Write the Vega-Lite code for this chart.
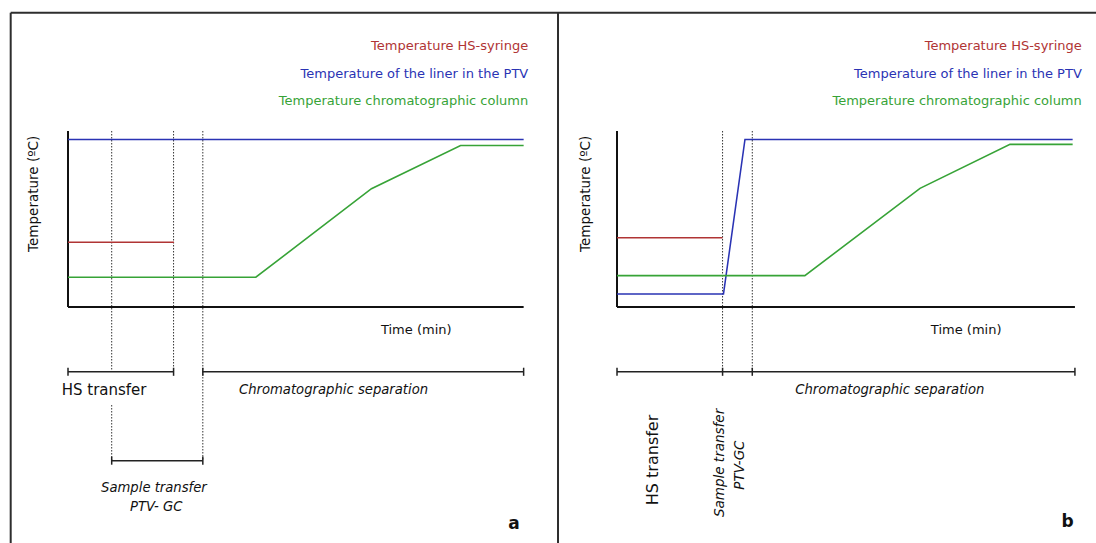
{
  "$schema": "https://vega.github.io/schema/vega-lite/v6.json",
  "padding": 0,
  "spacing": 0,
  "bounds": "flush",
  "background": "white",
  "config": {"view": {"stroke": null}, "text": {"font": "DejaVu Sans"}},
  "datasets": {
    "rules_a": [
      {"kind": "frame", "t": -12.54, "t2": 105.03, "v": 167.2, "v2": 167.2},
      {"kind": "frame", "t": -12.54, "t2": -12.54, "v": 167.2, "v2": -134.09},
      {"kind": "axis", "t": 0, "t2": 0, "v": 0, "v2": 100},
      {"kind": "axis", "t": 0, "t2": 99.7, "v": 0, "v2": 0},
      {"kind": "bracket", "t": 0, "t2": 23.1, "v": -36.8, "v2": -36.8},
      {"kind": "bracket", "t": 29.5, "t2": 99.7, "v": -36.8, "v2": -36.8},
      {"kind": "bracket", "t": 9.56, "t2": 29.5, "v": -87.3, "v2": -87.3},
      {"kind": "bracket", "t": 0, "t2": 0, "v": -39.1, "v2": -34.5},
      {"kind": "bracket", "t": 23.1, "t2": 23.1, "v": -39.1, "v2": -34.5},
      {"kind": "bracket", "t": 29.5, "t2": 29.5, "v": -39.1, "v2": -34.5},
      {"kind": "bracket", "t": 99.7, "t2": 99.7, "v": -39.1, "v2": -34.5},
      {"kind": "bracket", "t": 9.56, "t2": 9.56, "v": -89.6, "v2": -85.0},
      {"kind": "bracket", "t": 29.5, "t2": 29.5, "v": -89.6, "v2": -85.0},
      {"kind": "dotted", "t": 9.56, "t2": 9.56, "v": 100, "v2": -36.8},
      {"kind": "dotted", "t": 9.56, "t2": 9.56, "v": -55.7, "v2": -87.3},
      {"kind": "dotted", "t": 23.1, "t2": 23.1, "v": 100, "v2": -36.8},
      {"kind": "dotted", "t": 29.5, "t2": 29.5, "v": 100, "v2": -87.3}
    ],
    "lines_a": [
      {"series": "HS-syringe", "i": 0, "t": 0, "v": 36.8},
      {"series": "HS-syringe", "i": 1, "t": 23.2, "v": 36.8},
      {"series": "PTV liner", "i": 0, "t": 0, "v": 95.2},
      {"series": "PTV liner", "i": 1, "t": 99.7, "v": 95.2},
      {"series": "Column", "i": 0, "t": 0, "v": 16.9},
      {"series": "Column", "i": 1, "t": 41.1, "v": 16.9},
      {"series": "Column", "i": 2, "t": 66.4, "v": 67.2},
      {"series": "Column", "i": 3, "t": 85.9, "v": 91.8},
      {"series": "Column", "i": 4, "t": 99.7, "v": 91.8}
    ],
    "labels_a": [
      {"role": "legend", "series": "HS-syringe", "text": "Temperature HS-syringe", "t": 100.7, "v": 148.3},
      {"role": "legend", "series": "PTV liner", "text": "Temperature of the liner in the PTV", "t": 100.7, "v": 132.5},
      {"role": "legend", "series": "Column", "text": "Temperature chromatographic column", "t": 100.7, "v": 117.0},
      {"role": "ytitle", "text": "Temperature (ºC)", "t": -7.46, "v": 64.3},
      {"role": "xtitle", "text": "Time (min)", "t": 76.2, "v": -12.8},
      {"role": "phase", "text": "HS transfer", "t": 7.9, "v": -47.2},
      {"role": "italic", "text": "Chromatographic separation", "t": 58.1, "v": -47.3},
      {"role": "italic", "text": "Sample transfer", "t": 18.8, "v": -103.0},
      {"role": "italic", "text": "PTV- GC", "t": 19.3, "v": -113.8},
      {"role": "tag", "text": "a", "t": 97.6, "v": -123.2}
    ],
    "rules_b": [
      {"kind": "frame", "t": -15.10, "t2": 104.81, "v": 167.2, "v2": 167.2},
      {"kind": "frame", "t": -12.91, "t2": -12.91, "v": 167.2, "v2": -134.09},
      {"kind": "axis", "t": 0, "t2": 0, "v": 0, "v2": 100},
      {"kind": "axis", "t": 0, "t2": 100.2, "v": 0, "v2": 0},
      {"kind": "bracket", "t": 0, "t2": 100.2, "v": -36.8, "v2": -36.8},
      {"kind": "bracket", "t": 0, "t2": 0, "v": -39.1, "v2": -34.5},
      {"kind": "bracket", "t": 23.1, "t2": 23.1, "v": -39.1, "v2": -34.5},
      {"kind": "bracket", "t": 29.6, "t2": 29.6, "v": -39.1, "v2": -34.5},
      {"kind": "bracket", "t": 100.2, "t2": 100.2, "v": -39.1, "v2": -34.5},
      {"kind": "dotted", "t": 23.1, "t2": 23.1, "v": 100, "v2": -36.8},
      {"kind": "dotted", "t": 29.6, "t2": 29.6, "v": 100, "v2": -36.8}
    ],
    "lines_b": [
      {"series": "HS-syringe", "i": 0, "t": 0, "v": 39.4},
      {"series": "HS-syringe", "i": 1, "t": 23.1, "v": 39.4},
      {"series": "PTV liner", "i": 0, "t": 0, "v": 7.4},
      {"series": "PTV liner", "i": 1, "t": 23.3, "v": 7.4},
      {"series": "PTV liner", "i": 2, "t": 28.0, "v": 95.2},
      {"series": "PTV liner", "i": 3, "t": 99.7, "v": 95.2},
      {"series": "Column", "i": 0, "t": 0, "v": 17.8},
      {"series": "Column", "i": 1, "t": 41.1, "v": 17.8},
      {"series": "Column", "i": 2, "t": 66.3, "v": 67.4},
      {"series": "Column", "i": 3, "t": 86.0, "v": 92.4},
      {"series": "Column", "i": 4, "t": 99.7, "v": 92.4}
    ],
    "labels_b": [
      {"role": "legend", "series": "HS-syringe", "text": "Temperature HS-syringe", "t": 101.7, "v": 148.3},
      {"role": "legend", "series": "PTV liner", "text": "Temperature of the liner in the PTV", "t": 101.7, "v": 132.5},
      {"role": "legend", "series": "Column", "text": "Temperature chromatographic column", "t": 101.7, "v": 117.0},
      {"role": "ytitle", "text": "Temperature (ºC)", "t": -6.8, "v": 64.3},
      {"role": "xtitle", "text": "Time (min)", "t": 76.4, "v": -12.8},
      {"role": "italic", "text": "Chromatographic separation", "t": 59.7, "v": -47.3},
      {"role": "rotphase", "text": "HS transfer", "t": 7.9, "v": -86.9},
      {"role": "rotitalic", "text": "Sample transfer", "t": 22.6, "v": -88.6},
      {"role": "rotitalic", "text": "PTV-GC", "t": 26.9, "v": -89.8},
      {"role": "tag", "text": "b", "t": 98.6, "v": -122.2}
    ]
  },
  "hconcat": [
    {
      "width": 548,
      "height": 543,
      "encoding": {
        "x": {"field": "t", "type": "quantitative", "scale": {"domain": [-14.88, 105.03], "nice": false, "zero": false}, "axis": null},
        "y": {"field": "v", "type": "quantitative", "scale": {"domain": [-134.09, 174.43], "nice": false, "zero": false}, "axis": null}
      },
      "layer": [
        {"data": {"name": "rules_a"}, "transform": [{"filter": "datum.kind === 'frame'"}], "mark": {"type": "rule", "color": "#2e2e2e", "strokeWidth": 2}, "encoding": {"x2": {"field": "t2"}, "y2": {"field": "v2"}}},
        {"data": {"name": "rules_a"}, "transform": [{"filter": "datum.kind === 'dotted'"}], "mark": {"type": "rule", "color": "#333333", "strokeWidth": 1, "strokeDash": [1.5, 1.5]}, "encoding": {"x2": {"field": "t2"}, "y2": {"field": "v2"}}},
        {"data": {"name": "rules_a"}, "transform": [{"filter": "datum.kind === 'axis'"}], "mark": {"type": "rule", "color": "#111111", "strokeWidth": 2}, "encoding": {"x2": {"field": "t2"}, "y2": {"field": "v2"}}},
        {"data": {"name": "rules_a"}, "transform": [{"filter": "datum.kind === 'bracket'"}], "mark": {"type": "rule", "color": "#222222", "strokeWidth": 1.5}, "encoding": {"x2": {"field": "t2"}, "y2": {"field": "v2"}}},
        {"data": {"name": "lines_a"}, "mark": {"type": "line"}, "encoding": {
          "color": {"field": "series", "type": "nominal", "scale": {"domain": ["HS-syringe", "PTV liner", "Column"], "range": ["#b03434", "#2a33b4", "#37a337"]}, "legend": null},
          "strokeWidth": {"field": "series", "type": "ordinal", "scale": {"domain": ["HS-syringe", "PTV liner", "Column"], "range": [1.5, 1.6, 2.9]}, "legend": null},
          "order": {"field": "i", "type": "quantitative"}}},
        {"data": {"name": "labels_a"}, "transform": [{"filter": "datum.role === 'legend'"}], "mark": {"type": "text", "align": "right", "baseline": "middle", "fontSize": 13}, "encoding": {"text": {"field": "text"}, "color": {"field": "series", "type": "nominal", "legend": null}}},
        {"data": {"name": "labels_a"}, "transform": [{"filter": "datum.role === 'ytitle'"}], "mark": {"type": "text", "align": "center", "baseline": "middle", "fontSize": 13.5, "angle": 270, "color": "#111111"}, "encoding": {"text": {"field": "text"}}},
        {"data": {"name": "labels_a"}, "transform": [{"filter": "datum.role === 'xtitle'"}], "mark": {"type": "text", "align": "center", "baseline": "middle", "fontSize": 13, "color": "#111111"}, "encoding": {"text": {"field": "text"}}},
        {"data": {"name": "labels_a"}, "transform": [{"filter": "datum.role === 'phase'"}], "mark": {"type": "text", "align": "center", "baseline": "middle", "fontSize": 15, "color": "#111111"}, "encoding": {"text": {"field": "text"}}},
        {"data": {"name": "labels_a"}, "transform": [{"filter": "datum.role === 'italic'"}], "mark": {"type": "text", "align": "center", "baseline": "middle", "fontSize": 13.2, "fontStyle": "italic", "color": "#111111"}, "encoding": {"text": {"field": "text"}}},
        {"data": {"name": "labels_a"}, "transform": [{"filter": "datum.role === 'tag'"}], "mark": {"type": "text", "align": "center", "baseline": "middle", "fontSize": 17, "fontWeight": "bold", "color": "#111111"}, "encoding": {"text": {"field": "text"}}}
      ]
    },
    {
      "width": 548,
      "height": 543,
      "encoding": {
        "x": {"field": "t", "type": "quantitative", "scale": {"domain": [-15.10, 104.81], "nice": false, "zero": false}, "axis": null},
        "y": {"field": "v", "type": "quantitative", "scale": {"domain": [-134.09, 174.43], "nice": false, "zero": false}, "axis": null}
      },
      "layer": [
        {"data": {"name": "rules_b"}, "transform": [{"filter": "datum.kind === 'frame'"}], "mark": {"type": "rule", "color": "#2e2e2e", "strokeWidth": 2}, "encoding": {"x2": {"field": "t2"}, "y2": {"field": "v2"}}},
        {"data": {"name": "rules_b"}, "transform": [{"filter": "datum.kind === 'dotted'"}], "mark": {"type": "rule", "color": "#333333", "strokeWidth": 1, "strokeDash": [1.5, 1.5]}, "encoding": {"x2": {"field": "t2"}, "y2": {"field": "v2"}}},
        {"data": {"name": "rules_b"}, "transform": [{"filter": "datum.kind === 'axis'"}], "mark": {"type": "rule", "color": "#111111", "strokeWidth": 2}, "encoding": {"x2": {"field": "t2"}, "y2": {"field": "v2"}}},
        {"data": {"name": "rules_b"}, "transform": [{"filter": "datum.kind === 'bracket'"}], "mark": {"type": "rule", "color": "#222222", "strokeWidth": 1.5}, "encoding": {"x2": {"field": "t2"}, "y2": {"field": "v2"}}},
        {"data": {"name": "lines_b"}, "mark": {"type": "line"}, "encoding": {
          "color": {"field": "series", "type": "nominal", "scale": {"domain": ["HS-syringe", "PTV liner", "Column"], "range": ["#b03434", "#2a33b4", "#37a337"]}, "legend": null},
          "strokeWidth": {"field": "series", "type": "ordinal", "scale": {"domain": ["HS-syringe", "PTV liner", "Column"], "range": [1.5, 2.2, 2.9]}, "legend": null},
          "order": {"field": "i", "type": "quantitative"}}},
        {"data": {"name": "labels_b"}, "transform": [{"filter": "datum.role === 'legend'"}], "mark": {"type": "text", "align": "right", "baseline": "middle", "fontSize": 13}, "encoding": {"text": {"field": "text"}, "color": {"field": "series", "type": "nominal", "legend": null}}},
        {"data": {"name": "labels_b"}, "transform": [{"filter": "datum.role === 'ytitle'"}], "mark": {"type": "text", "align": "center", "baseline": "middle", "fontSize": 13.5, "angle": 270, "color": "#111111"}, "encoding": {"text": {"field": "text"}}},
        {"data": {"name": "labels_b"}, "transform": [{"filter": "datum.role === 'xtitle'"}], "mark": {"type": "text", "align": "center", "baseline": "middle", "fontSize": 13, "color": "#111111"}, "encoding": {"text": {"field": "text"}}},
        {"data": {"name": "labels_b"}, "transform": [{"filter": "datum.role === 'italic'"}], "mark": {"type": "text", "align": "center", "baseline": "middle", "fontSize": 13.2, "fontStyle": "italic", "color": "#111111"}, "encoding": {"text": {"field": "text"}}},
        {"data": {"name": "labels_b"}, "transform": [{"filter": "datum.role === 'rotphase'"}], "mark": {"type": "text", "align": "center", "baseline": "middle", "fontSize": 16, "angle": 270, "color": "#111111"}, "encoding": {"text": {"field": "text"}}},
        {"data": {"name": "labels_b"}, "transform": [{"filter": "datum.role === 'rotitalic'"}], "mark": {"type": "text", "align": "center", "baseline": "middle", "fontSize": 13.5, "angle": 270, "fontStyle": "italic", "color": "#111111"}, "encoding": {"text": {"field": "text"}}},
        {"data": {"name": "labels_b"}, "transform": [{"filter": "datum.role === 'tag'"}], "mark": {"type": "text", "align": "center", "baseline": "middle", "fontSize": 17, "fontWeight": "bold", "color": "#111111"}, "encoding": {"text": {"field": "text"}}}
      ]
    }
  ]
}
